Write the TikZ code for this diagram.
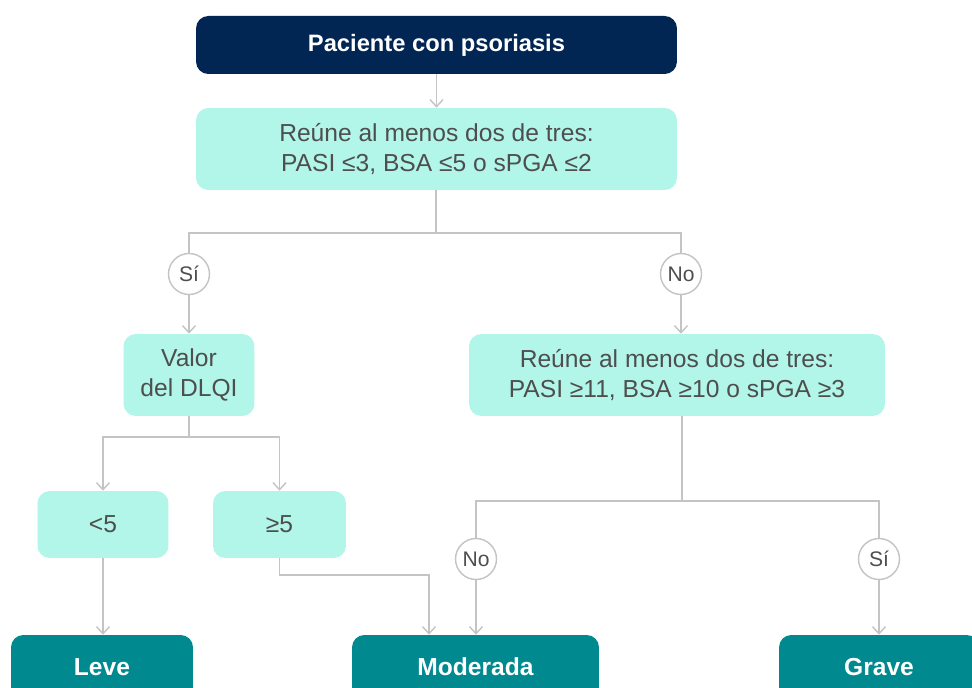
\documentclass[tikz,border=0pt]{standalone}
\usepackage{fontspec}
\setmainfont{Liberation Sans}
\usepackage{tikz}
\usetikzlibrary{arrows.meta,positioning,calc}
\usepackage{xcolor}
\definecolor{navydeep}{RGB}{2,38,84}
\definecolor{mintlight}{RGB}{178,246,234}
\definecolor{tealdark}{RGB}{0,137,143}
\definecolor{inkgray}{RGB}{78,78,78}
\definecolor{wiregray}{RGB}{196,196,196}
\tikzset{
  headbox/.style={fill=navydeep,draw=none,rounded corners=7pt,
    minimum width=9.62cm,minimum height=1.16cm,align=center,
    font=\fontsize{13.5}{17}\selectfont\bfseries,text=white},
  critbox/.style={fill=mintlight,draw=none,rounded corners=7pt,
    minimum height=1.64cm,align=center,inner sep=0pt,
    font=\fontsize{14}{17.5}\selectfont,text=inkgray},
  valbox/.style={critbox,minimum height=1.34cm},
  answer/.style={circle,fill=white,draw=wiregray,line width=0.8pt,
    minimum size=0.82cm,inner sep=0pt,
    font=\fontsize{12}{14}\selectfont,text=inkgray},
  outcome/.style={fill=tealdark,draw=none,rounded corners=7pt,
    minimum height=1.28cm,align=center,
    font=\fontsize{14}{17}\selectfont\bfseries,text=white},
  wire/.style={draw=wiregray,line width=0.8pt},
  flow/.style={wire,-{Straight Barb[length=1.4mm,width=2.6mm]}}
}

\begin{document}
\begin{tikzpicture}[x=0.02cm,y=-0.02cm]
  \clip (0,0) rectangle (972,688);
  \path[fill=white] (0,0) rectangle (972,688);

  \node[headbox] (patient) at (436.5,45) {Paciente con psoriasis};
  \node[critbox,minimum width=9.62cm] (mild) at (436.5,149)
    {Reúne al menos dos de tres:\\PASI ≤3, BSA ≤5 o sPGA ≤2};

  \node[answer] (yesA) at (189,274) {Sí};
  \node[answer] (noA) at (681,274) {No};

  \node[critbox,minimum width=2.62cm] (dlqi) at (189,375) {Valor\\del DLQI};
  \node[critbox,minimum width=8.32cm] (severe) at (677,375)
    {Reúne al menos dos de tres:\\PASI ≥11, BSA ≥10 o sPGA ≥3};

  \node[valbox,minimum width=2.62cm] (low) at (103,524.5) {<5};
  \node[valbox,minimum width=2.66cm] (high) at (279.5,524.5) {≥5};

  \node[answer] (noB) at (476,559) {No};
  \node[answer] (yesB) at (879,559) {Sí};

  \node[outcome,minimum width=3.64cm] (leve) at (102,667) {Leve};
  \node[outcome,minimum width=4.94cm] (moderada) at (475.5,667) {Moderada};
  \node[outcome,minimum width=4.0cm] (grave) at (879,667) {Grave};

  % junctions
  \coordinate (splitA) at (436,233);
  \coordinate (splitB) at (189,437);
  \coordinate (splitC) at (682,501);
  \coordinate (bendD) at (429,575);

  \path (patient) edge[flow] (mild);
  \draw[wire] (mild.south -| splitA) -- (splitA);
  \draw[wire] (yesA.north) |- (splitA) -| (noA.north);
  \draw[flow] (yesA.south) -- (yesA.south |- dlqi.north);
  \draw[flow] (noA.south) -- (noA.south |- severe.north);

  \draw[wire] (dlqi.south -| splitB) -- (splitB);
  \draw[flow] (splitB) -| (low.north);
  \draw[flow] (splitB) -| (high.north);

  \draw[wire] (severe.south -| splitC) -- (splitC);
  \draw[wire] (noB.north) |- (splitC) -| (yesB.north);

  \draw[flow] (low.south) -- (low.south |- leve.north);
  \draw[flow] (high.south) |- (bendD) -- (bendD |- moderada.north);
  \draw[flow] (noB.south) -- (noB.south |- moderada.north);
  \draw[flow] (yesB.south) -- (yesB.south |- grave.north);
\end{tikzpicture}
\end{document}
